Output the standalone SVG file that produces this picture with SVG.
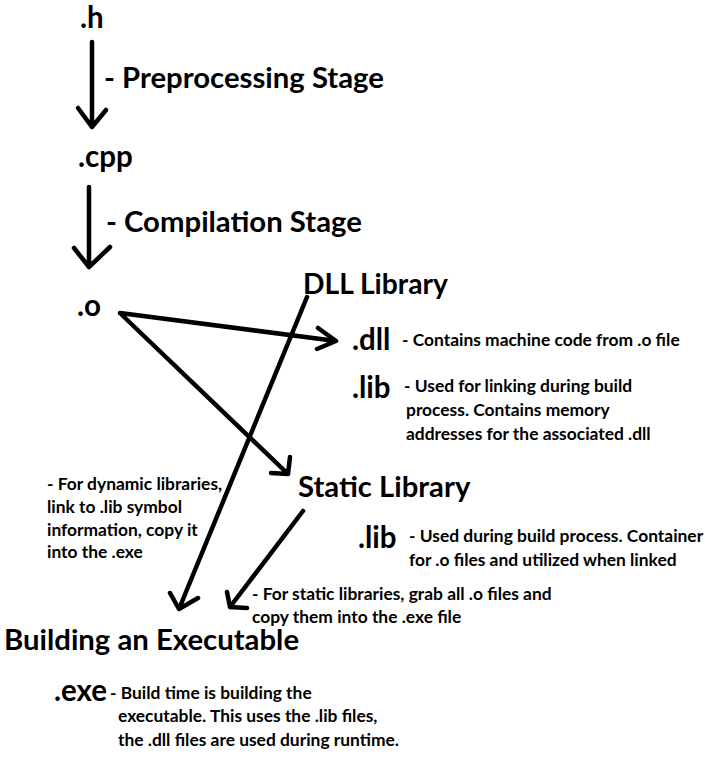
<svg xmlns="http://www.w3.org/2000/svg" width="705" height="757" viewBox="0 0 705 757">
<style>
text{font-family:Lato,"Noto Sans","Liberation Sans",sans-serif;font-weight:bold;fill:#000}
.ext{font-size:29.5px}
.head{font-size:29.3px}
.body{font-size:17.4px}
.c{fill:none;stroke:#000;stroke-width:4.5;stroke-linecap:round;stroke-linejoin:round}
</style>
<rect width="705" height="757" fill="#fff"/>
<g id="connectors">
<path id="e-h-cpp" class="c" d="M92,42 V127 M78,108 L92,127 L106,110"/>
<path id="e-cpp-o" class="c" d="M89,187 V267 M74,248 L89,267 L110,247"/>
<path id="e-o-dll" class="c" d="M120,313 L336,341 M318,328 L336,341 L317,349"/>
<path id="e-o-static" class="c" d="M122,315 L288,474 M290,457 L288,474 L271,473"/>
<path id="e-dll-exe" class="c" d="M307,297 L179,609 M170,593 L179,609 L198,598"/>
<path id="e-static-exe" class="c" d="M303,511 L230,607 M227,592 L230,607 L247,608"/>
</g>
<g id="n-h"><text class="ext" x="80" y="28">.h</text></g>
<g id="l-preprocessing"><text class="head" x="104" y="88">- Preprocessing Stage</text></g>
<g id="n-cpp"><text class="ext" x="78" y="167">.cpp</text></g>
<g id="l-compilation"><text class="head" x="106" y="232">- Compilation Stage</text></g>
<g id="n-o"><text class="ext" x="77" y="316">.o</text></g>
<g id="n-dll-library"><text class="head" x="303" y="294" textLength="145" lengthAdjust="spacingAndGlyphs">DLL Library</text></g>
<g id="n-dll">
<text class="ext" x="352" y="350">.dll</text>
<text class="body" x="402" y="346">- Contains machine code from .o file</text>
</g>
<g id="n-dll-lib">
<text class="ext" x="352" y="398">.lib</text>
<text class="body" x="404" y="392">- Used for linking during build</text>
<text class="body" x="406" y="416">process. Contains memory</text>
<text class="body" x="406" y="440">addresses for the associated .dll</text>
</g>
<g id="l-dynamic">
<text class="body" x="47" y="490">- For dynamic libraries,</text>
<text class="body" x="47" y="513">link to .lib symbol</text>
<text class="body" x="47" y="536">information, copy it</text>
<text class="body" x="47" y="558">into the .exe</text>
</g>
<g id="n-static-library"><text class="head" x="298" y="497">Static Library</text></g>
<g id="n-static-lib">
<text class="ext" x="358" y="548">.lib</text>
<text class="body" x="409" y="542">- Used during build process. Container</text>
<text class="body" x="409" y="566">for .o files and utilized when linked</text>
</g>
<g id="l-static">
<text class="body" x="252" y="600">- For static libraries, grab all .o files and</text>
<text class="body" x="252" y="623">copy them into the .exe file</text>
</g>
<g id="n-building"><text class="head" x="4" y="650">Building an Executable</text></g>
<g id="n-exe">
<text class="ext" x="54" y="701">.exe</text>
<text class="body" x="110" y="699">- Build time is building the</text>
<text class="body" x="118" y="722">executable. This uses the .lib files,</text>
<text class="body" x="118" y="746">the .dll files are used during runtime.</text>
</g>
</svg>
